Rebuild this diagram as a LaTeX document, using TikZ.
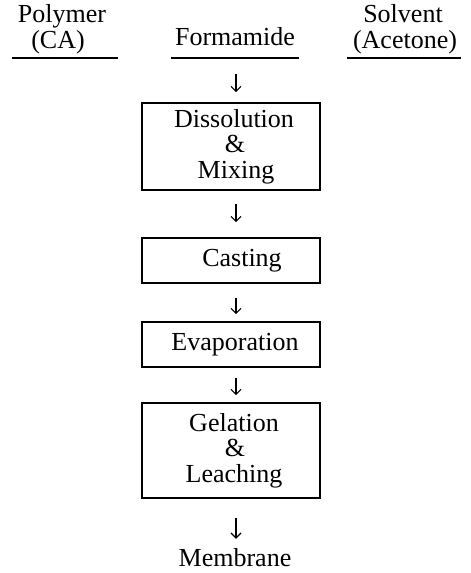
\documentclass[tikz,border=0pt]{standalone}
\usepackage{fontspec}
\setmainfont{Liberation Serif}
\usetikzlibrary{arrows.meta}
\begin{document}
\begin{tikzpicture}[x=1pt,y=-1pt,
  every node/.style={font=\fontsize{26}{25.5}\selectfont, inner sep=0pt},
  stepbox/.style={draw, line width=1.6pt, minimum width=178pt, align=center},
  hdr/.style={anchor=base},
  uline/.style={line width=1.2pt},
  arr/.style={line width=1.2pt, -{Straight Barb[length=5pt,width=10pt,line width=1.2pt]}}]
\useasboundingbox (0,0) rectangle (471,573);
% headers
\node[hdr] (pol) at (62,22) {Polymer};
\node[hdr] (ca) at (58,48) {(CA)};
\node[hdr] (fm) at (235,45) {Formamide};
\node[hdr] (sol) at (403,22) {Solvent};
\node[hdr] (ace) at (405,48) {(Acetone)};
\coordinate (polL) at (12,58); \coordinate (polR) at (118,58);
\coordinate (fmL) at (171,58); \coordinate (fmR) at (299,58);
\coordinate (solL) at (347,58); \coordinate (solR) at (461,58);
\coordinate (fmU) at (236,58);
\draw[uline] (polL) -- (polR);
\draw[uline] (fmL) -- (fmR);
\draw[uline] (solL) -- (solR);
% boxes
\node[stepbox, minimum height=87pt] (b1) at (231,146.5)
  {\hspace*{6pt}Dissolution\\\hspace*{8pt}\&\\\hspace*{10pt}Mixing};
\node[stepbox, minimum height=45pt] (b2) at (231,260.5) {\hspace*{22pt}Casting};
\node[stepbox, minimum height=45pt] (b3) at (231,344.5) {\hspace*{8pt}Evaporation};
\node[stepbox, minimum height=95pt] (b4) at (231,450.5)
  {\hspace*{6pt}Gelation\\\hspace*{8pt}\&\\\hspace*{6pt}Leaching};
\node[hdr] (mem) at (235,566) {Membrane};
% arrows
\draw[arr, shorten <=16pt, shorten >=10pt] (fmU) -- (fmU |- b1.north);
\draw[arr, shorten <=13pt, shorten >=15pt] (fmU |- b1.south) -- (fmU |- b2.north);
\draw[arr, shorten <=14pt, shorten >=7pt] (fmU |- b2.south) -- (fmU |- b3.north);
\draw[arr, shorten <=10pt, shorten >=7pt] (fmU |- b3.south) -- (fmU |- b4.north);
\draw[arr, shorten <=19pt, shorten >=9pt] (fmU |- b4.south) -- (fmU |- mem.north);
\end{tikzpicture}
\end{document}
